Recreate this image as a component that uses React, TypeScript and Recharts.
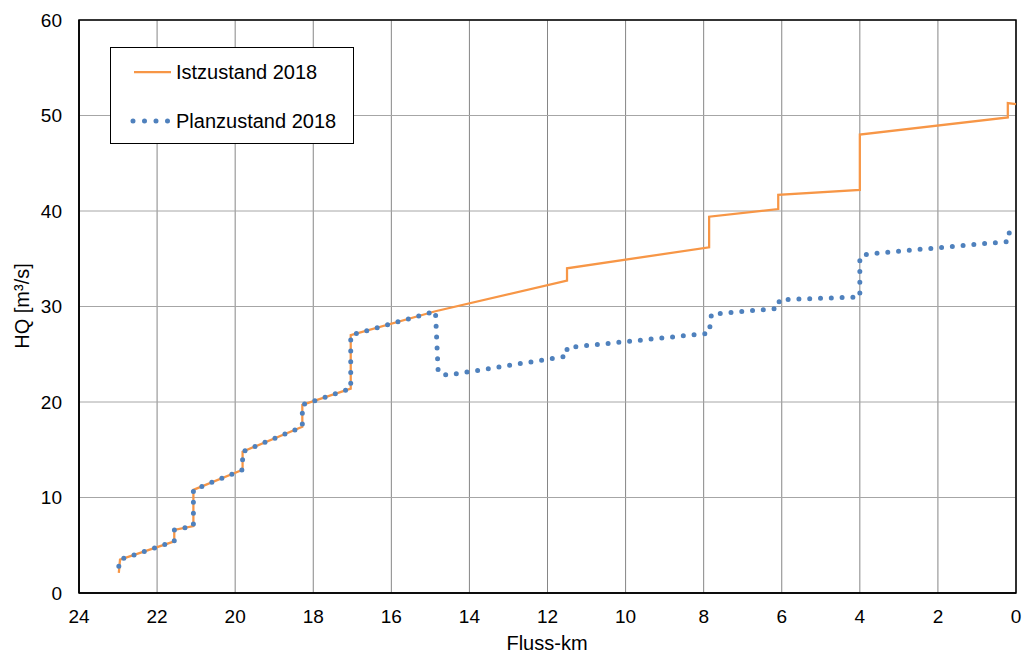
import React from 'react';
import {
  LineChart,
  Line,
  XAxis,
  YAxis,
  CartesianGrid,
  Legend,
  ReferenceArea,
} from 'recharts';

const FONT = '"Liberation Sans", Arial, sans-serif';

const xTicks = [24, 22, 20, 18, 16, 14, 12, 10, 8, 6, 4, 2, 0];
const yTicks = [0, 10, 20, 30, 40, 50, 60];

// Istzustand 2018
const istKm = [22.98, 22.95, 21.56, 21.56, 21.07, 21.07, 19.81, 19.81, 18.28, 18.28, 17.04, 17.04, 14.87, 11.5, 11.5, 7.86, 7.86, 6.09, 6.09, 4.0, 4.0, 0.21, 0.21, 0];
const istHq = [2.1, 3.5, 5.4, 6.6, 7.0, 10.8, 12.9, 14.8, 17.4, 19.7, 21.4, 27.0, 29.5, 32.7, 34.0, 36.2, 39.4, 40.2, 41.7, 42.2, 48.0, 49.8, 51.3, 51.2];

// Planzustand 2018
const planKm = [22.98, 22.95, 21.56, 21.56, 21.07, 21.07, 19.81, 19.81, 18.28, 18.28, 17.04, 17.04, 14.87, 14.8, 14.57, 11.5, 11.5, 7.86, 7.8, 6.09, 6.06, 4.0, 4.0, 3.8, 0.21, 0.2, 0];
const planHq = [2.8, 3.5, 5.4, 6.6, 7.0, 10.8, 12.9, 14.8, 17.4, 19.7, 21.4, 27.0, 29.5, 23.1, 22.8, 24.8, 25.7, 27.2, 29.2, 29.8, 30.7, 31.0, 35.2, 35.5, 36.8, 37.6, 38.4];

const ist = istKm.map((km, i) => ({ km, hq: istHq[i] }));
const plan = planKm.map((km, i) => ({ km, hq: planHq[i] }));

const ORANGE = '#F79646';
const BLUE = '#4F81BD';

const YLabel = () => (
  <text
    x={22}
    y={306}
    transform="rotate(-90 22 306)"
    textAnchor="middle"
    dominantBaseline="central"
    fontSize={20}
    fontFamily={FONT}
    fill="#000"
  >
    HQ [m³/s]
  </text>
);

const XLabel = () => (
  <text
    x={547}
    y={643}
    textAnchor="middle"
    dominantBaseline="central"
    fontSize={20}
    fontFamily={FONT}
    fill="#000"
  >
    Fluss-km
  </text>
);

const renderLegend = () => (
  <div style={{ width: 244, height: 97, border: '1px solid #000', background: '#fff', boxSizing: 'border-box' }}>
    <svg width={242} height={95} style={{ display: 'block' }}>
      <line x1={23} y1={24} x2={60} y2={24} stroke={ORANGE} strokeWidth={2.25} />
      <text x={65} y={24} dominantBaseline="central" fontSize={20} fontFamily={FONT} fill="#000">
        Istzustand 2018
      </text>
      <line
        x1={22}
        y1={73}
        x2={57}
        y2={73}
        stroke={BLUE}
        strokeWidth={5}
        strokeLinecap="round"
        strokeDasharray="0 11.5"
      />
      <text x={65} y={73} dominantBaseline="central" fontSize={20} fontFamily={FONT} fill="#000">
        Planzustand 2018
      </text>
    </svg>
  </div>
);

export default function App() {
  return (
    <div style={{ position: 'absolute', left: 0, top: 0, width: 1031, height: 655, background: '#fff' }}>
      <LineChart width={1031} height={655} margin={{ top: 20, right: 15, bottom: 0, left: 0 }}>
        <CartesianGrid horizontal={false} stroke="#868686" strokeWidth={1} />
        <CartesianGrid vertical={false} stroke="#a6a6a6" strokeWidth={1} />
        <XAxis
          dataKey="km"
          type="number"
          domain={[0, 24]}
          reversed
          ticks={xTicks}
          interval={0}
          allowDuplicatedCategory={false}
          height={62}
          tickSize={0}
          tickMargin={17}
          axisLine={{ stroke: '#000', strokeWidth: 1.5 }}
          tick={{ fill: '#000', fontSize: 19, fontFamily: FONT }}
          label={<XLabel />}
        />
        <YAxis
          type="number"
          domain={[0, 60]}
          ticks={yTicks}
          interval={0}
          width={79}
          tickSize={0}
          tickMargin={17}
          axisLine={{ stroke: '#000', strokeWidth: 1.5 }}
          tick={{ fill: '#000', fontSize: 19, fontFamily: FONT }}
          label={<YLabel />}
        />
        <ReferenceArea x1={24} x2={0} y1={0} y2={60} fill="none" stroke="#000" strokeWidth={1.5} />
        <Line
          data={ist}
          dataKey="hq"
          name="Istzustand 2018"
          type="linear"
          stroke={ORANGE}
          strokeWidth={2.25}
          dot={false}
          isAnimationActive={false}
        />
        <Line
          data={plan}
          dataKey="hq"
          name="Planzustand 2018"
          type="linear"
          stroke={BLUE}
          strokeWidth={5}
          strokeLinecap="round"
          strokeDasharray="0 10.8"
          dot={false}
          isAnimationActive={false}
        />
        <Legend
          layout="vertical"
          align="center"
          verticalAlign="middle"
          content={renderLegend}
          wrapperStyle={{ left: 110, top: 47, width: 244, height: 97 }}
        />
      </LineChart>
    </div>
  );
}
